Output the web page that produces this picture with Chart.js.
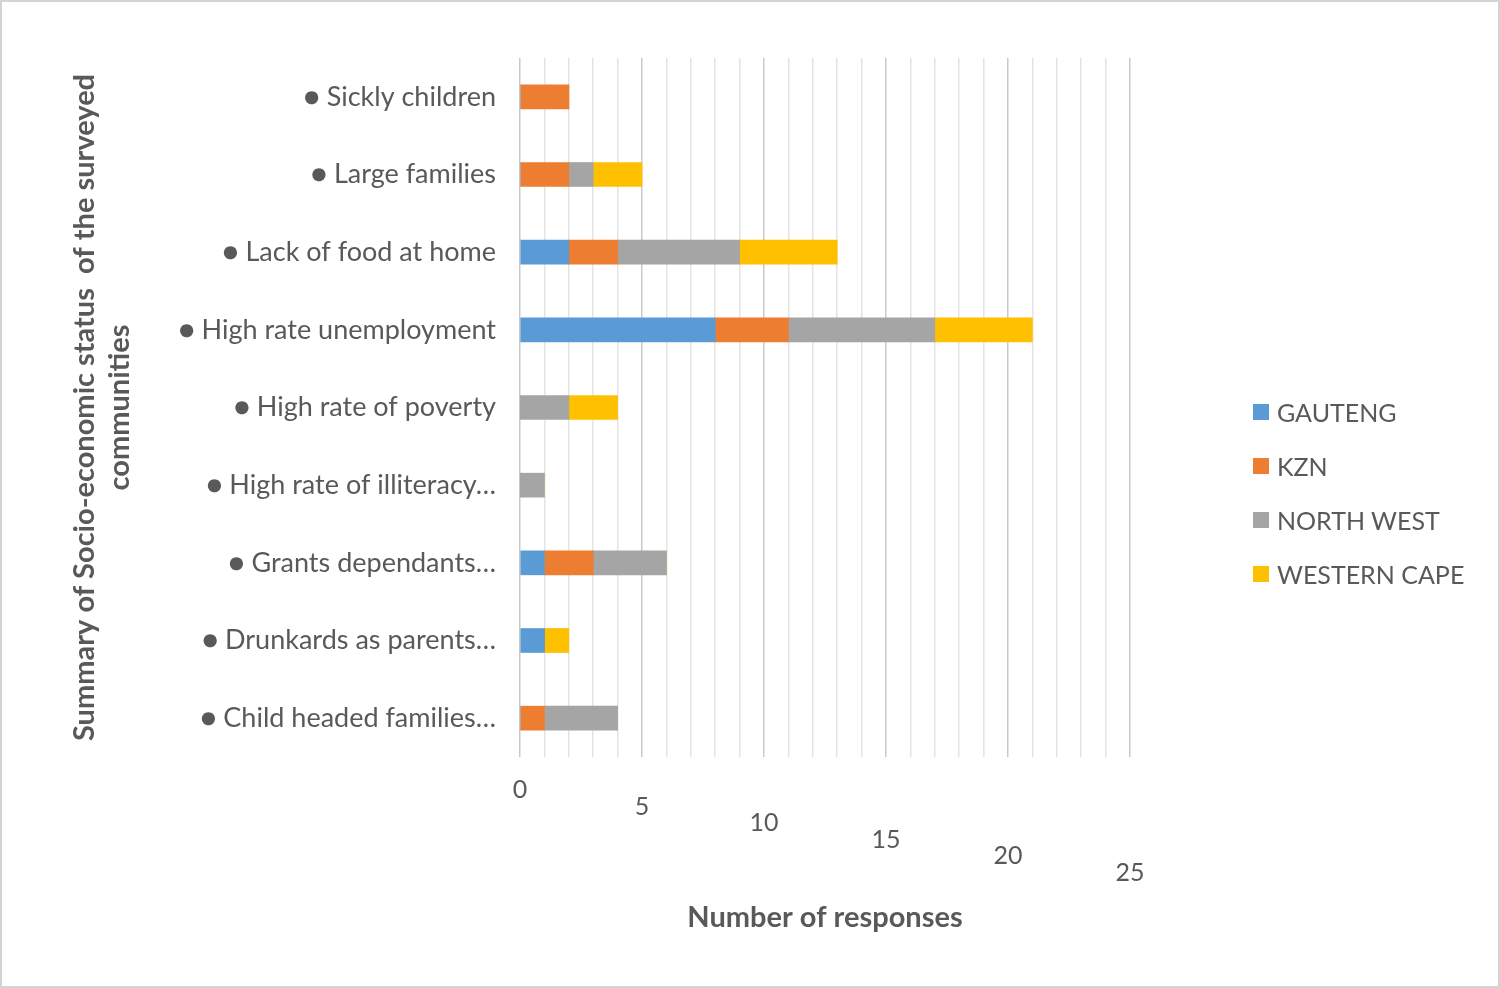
<!DOCTYPE html>
<html>
<head>
<meta charset="utf-8">
<script src="https://cdn.jsdelivr.net/npm/chart.js@4.4.1/dist/chart.umd.min.js"></script>
<style>
body{margin:0;background:#fff;}
#wrap{position:relative;width:1500px;height:988px;}
#frame{position:absolute;left:0;top:0;width:1500px;height:988px;box-sizing:border-box;border:2px solid #d4d4d4;pointer-events:none;}
#legend{position:absolute;left:1253px;top:385px;font-family:Lato, sans-serif;font-size:25px;color:#595959;}
#legend .item{display:flex;align-items:center;height:54px;white-space:nowrap;}
#legend .box{width:16px;height:16px;margin-right:8px;}
</style>
</head>
<body>
<div id="wrap">
	<canvas id="main" width="1500" height="988"></canvas>
	<div id="legend"></div>
	<div id="frame"></div>
</div>
<script>
// categories, top to bottom
var categories = [
	'● Sickly children',
	'● Large families',
	'● Lack of food at home',
	'● High rate unemployment',
	'● High rate of poverty',
	'● High rate of illiteracy…',
	'● Grants dependants…',
	'● Drunkards as parents…',
	'● Child headed families…'
];
var gauteng     = [0, 0, 2, 8, 0, 0, 1, 1, 0];
var kzn         = [2, 2, 2, 3, 0, 0, 2, 0, 1];
var northWest   = [0, 1, 5, 6, 2, 1, 3, 0, 3];
var westernCape = [0, 2, 4, 4, 2, 0, 0, 1, 0];
var seriesNames = ['GAUTENG', 'KZN', 'NORTH WEST', 'WESTERN CAPE'];
var seriesData = [gauteng, kzn, northWest, westernCape];
var seriesColors = ['#5B9BD5', '#ED7D31', '#A5A5A5', '#FFC000'];
var xTicks = [0, 5, 10, 15, 20, 25];

var textColor = '#595959';

var datasets = [];
for (var i=0; i<seriesNames.length; i++){
	datasets.push({
		label: seriesNames[i],
		data: seriesData[i],
		backgroundColor: seriesColors[i],
		borderWidth: 0,
		barThickness: 24
	});
}

//x tick labels drawn stepped down, like the 3d floor of the original
var slantTicks = {
	id: 'slantTicks',
	afterDraw: function(chart){
		var ctx = chart.ctx,
			xScale = chart.scales.x,
			area = chart.chartArea;
		ctx.save();
		ctx.font = '25px Lato';
		ctx.fillStyle = textColor;
		ctx.textAlign = 'center';
		ctx.textBaseline = 'middle';
		for (var i=0; i<xTicks.length; i++){
			var v = xTicks[i];
			ctx.fillText(String(v), xScale.getPixelForValue(v), area.bottom + 33 + v * 3.3);
		}
		ctx.restore();
	}
};

Chart.defaults.font.family = 'Lato';
Chart.defaults.color = textColor;

var ctx = document.getElementById('main').getContext('2d');
var chart = new Chart(ctx, {
	type: 'bar',
	data: {labels: categories, datasets: datasets},
	plugins: [slantTicks],
	options: {
		responsive: false,
		animation: false,
		indexAxis: 'y',
		layout: {padding: {left: 60, top: 58, right: 370, bottom: 40}},
		plugins: {
			legend: {display: false},
			tooltip: {enabled: false}
		},
		scales: {
			x: {
				stacked: true,
				min: 0,
				max: 25,
				ticks: {display: false, stepSize: 1, maxTicksLimit: 30},
				grid: {
					drawTicks: false,
					lineWidth: 1.5,
					color: function(c){
						return c.tick && c.tick.value % 5 === 0 ? '#c9c9c9' : '#e4e4e4';
					}
				},
				border: {display: false},
				title: {
					display: true,
					text: 'Number of responses',
					color: textColor,
					font: {size: 29, weight: 'bold'},
					padding: {top: 0, bottom: 13}
				},
				afterFit: function(scale){ scale.height = 191; }
			},
			y: {
				stacked: true,
				ticks: {padding: 16, color: textColor, font: {size: 27}},
				grid: {display: false},
				border: {display: false},
				title: {
					display: true,
					text: ['Summary of Socio-economic status  of the surveyed', 'communities'],
					color: textColor,
					font: {size: 29, weight: 'bold', lineHeight: 1.2},
					padding: {top: 7, bottom: 0}
				},
				afterFit: function(scale){ scale.width = 460; }
			}
		}
	}
});

// legend
var legend = document.getElementById('legend');
for (var i=0; i<seriesNames.length; i++){
	var item = document.createElement('div');
	item.className = 'item';
	var box = document.createElement('span');
	box.className = 'box';
	box.style.background = seriesColors[i];
	item.appendChild(box);
	item.appendChild(document.createTextNode(seriesNames[i]));
	legend.appendChild(item);
}
</script>
</body>
</html>
